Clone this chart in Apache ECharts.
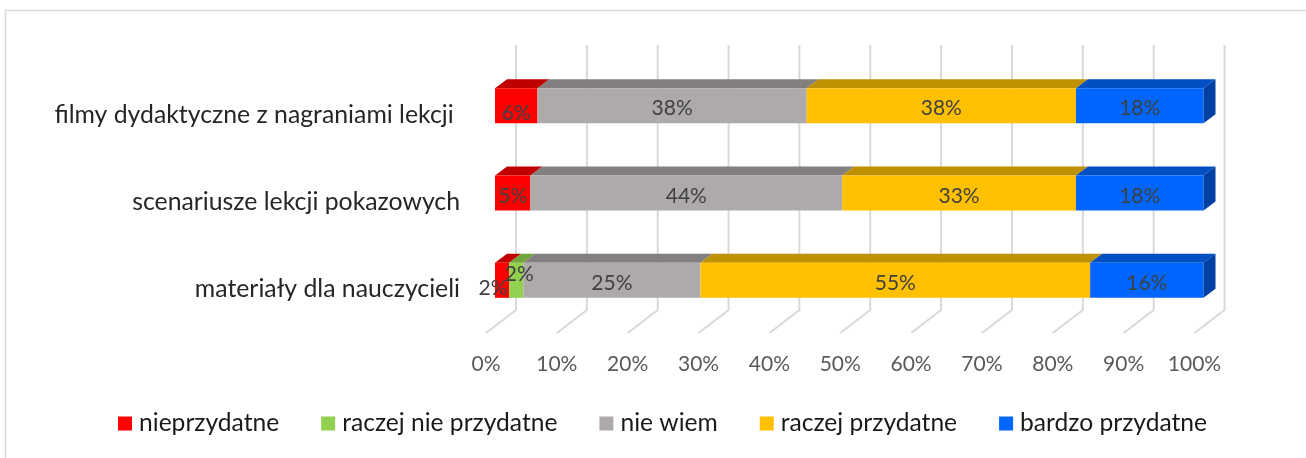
<!DOCTYPE html>
<html><head><meta charset="utf-8">
<style>html,body{margin:0;padding:0;background:#fff}#c{width:1306px;height:458px}</style>
<script src="https://cdn.jsdelivr.net/npm/echarts@6/dist/echarts.min.js"></script>
</head><body><div id="c"></div>
<script>
const categories = ['materiały dla nauczycieli', 'scenariusze lekcji pokazowych', 'filmy dydaktyczne z nagraniami lekcji '];
const nieprzydatne = [2, 5, 6];
const raczejNie = [2, 0, 0];
const nieWiem = [25, 44, 38];
const raczejTak = [55, 33, 38];
const bardzo = [16, 18, 18];
const seriesNames = ['nieprzydatne', 'raczej nie przydatne', 'nie wiem', 'raczej przydatne', 'bardzo przydatne'];
const ticks = [0, 10, 20, 30, 40, 50, 60, 70, 80, 90, 100];

const FONT = 'Lato';
const colors = ['#ff0000', '#92d050', '#aeaaaa', '#ffc000', '#0066ff'];
const tops = ['#c00000', '#6fa53c', '#847f7f', '#bf9000', '#0050c4'];
const sideColor = '#003fa3';
const front = {dx: 9, dy: -9, h: 35};
const depth = {dx: 12, dy: -9};
const floor = {dx: 30, dy: -23, wallTop: 26};
// label nudges [series, category] -> [dx, dy]
const nudges = {'0,0': [-9, 5], '1,0': [3, -9], '0,2': [0, 5]};

const all = [nieprzydatne, raczejNie, nieWiem, raczejTak, bardzo];
const running = categories.map(() => 0);
const barSeries = all.map((vals, s) => {
  const data = vals.map((v, c) => {
    const start = running[c];
    running[c] += v;
    return [start, c, v];
  });
  return {
    type: 'custom', name: seriesNames[s], z: 5,
    itemStyle: {color: colors[s]},
    encode: {x: 0, y: 1},
    data,
    renderItem(params, api) {
      const v = api.value(2);
      if (!v) return {type: 'group', children: []};
      const c = api.value(1);
      const a = api.coord([api.value(0), c]);
      const b = api.coord([api.value(0) + v, c]);
      const x0 = a[0] + front.dx, x1 = b[0] + front.dx;
      const yT = a[1] + front.dy - front.h / 2, yB = yT + front.h;
      const d = depth;
      const children = [
        {type: 'polygon', shape: {points: [[x0, yT], [x0 + d.dx, yT + d.dy], [x1 + d.dx, yT + d.dy], [x1, yT]]},
         style: {fill: tops[s]}},
        {type: 'rect', shape: {x: x0, y: yT, width: x1 - x0, height: front.h}, style: {fill: colors[s]}}
      ];
      if (s === all.length - 1) {
        children.push({type: 'polygon', shape: {points: [[x1, yT], [x1 + d.dx, yT + d.dy], [x1 + d.dx, yB + d.dy], [x1, yB]]},
          style: {fill: sideColor}});
      }
      const n = nudges[s + ',' + c] || [0, 0];
      children.push({type: 'text', z2: 100, style: {
        text: v + '%', x: (x0 + x1) / 2 + n[0], y: (yT + yB) / 2 + 3 + n[1],
        align: 'center', verticalAlign: 'middle',
        fill: '#404040', font: '21px "' + FONT + '"'}});
      return {type: 'group', children};
    }
  };
});

const wallSeries = {
  type: 'custom', z: 1, silent: true, legendHoverLink: false,
  data: ticks.map(t => [t]),
  encode: {x: 0},
  renderItem(params, api) {
    const cs = params.coordSys;
    const x = api.coord([api.value(0), 0])[0];
    const yF = cs.y + cs.height;
    const st = {stroke: '#d9d9d9', lineWidth: 2, fill: 'none'};
    return {type: 'polyline', shape: {points: [[x, yF], [x + floor.dx, yF + floor.dy], [x + floor.dx, cs.y - floor.wallTop]]}, style: st};
  }
};

const chart = echarts.init(document.getElementById('c'), null, {renderer: 'canvas'});
chart.setOption({
  animation: false,
  backgroundColor: '#fff',
  graphic: [{type: 'polyline', silent: true, shape: {points: [[5.5, 458], [5.5, 10.5], [1306, 10.5]]},
    style: {stroke: '#d9d9d9', lineWidth: 1.5, fill: 'none'}}],
  grid: {left: 486, top: 71, width: 708.5, height: 262, containLabel: false},
  legend: {left: 113, top: 406, icon: 'rect', itemWidth: 14, itemHeight: 14, itemGap: 42, itemStyle: {borderWidth: 0},
    data: seriesNames,
    textStyle: {fontFamily: FONT, fontSize: 24.6, color: '#1a1a1a', padding: [0, 0, 0, 2]}},
  xAxis: {type: 'value', min: 0, max: 100, interval: 10,
    axisLine: {show: false}, axisTick: {show: false}, splitLine: {show: false},
    axisLabel: {formatter: '{value}%', color: '#595959', fontFamily: FONT, fontSize: 21, margin: 21, hideOverlap: false}},
  yAxis: {type: 'category', data: categories,
    axisLine: {show: false}, axisTick: {show: false}, splitLine: {show: false},
    axisLabel: {color: '#262626', fontFamily: FONT, fontSize: 24.8, margin: 26}},
  series: [wallSeries].concat(barSeries)
});
</script></body></html>
